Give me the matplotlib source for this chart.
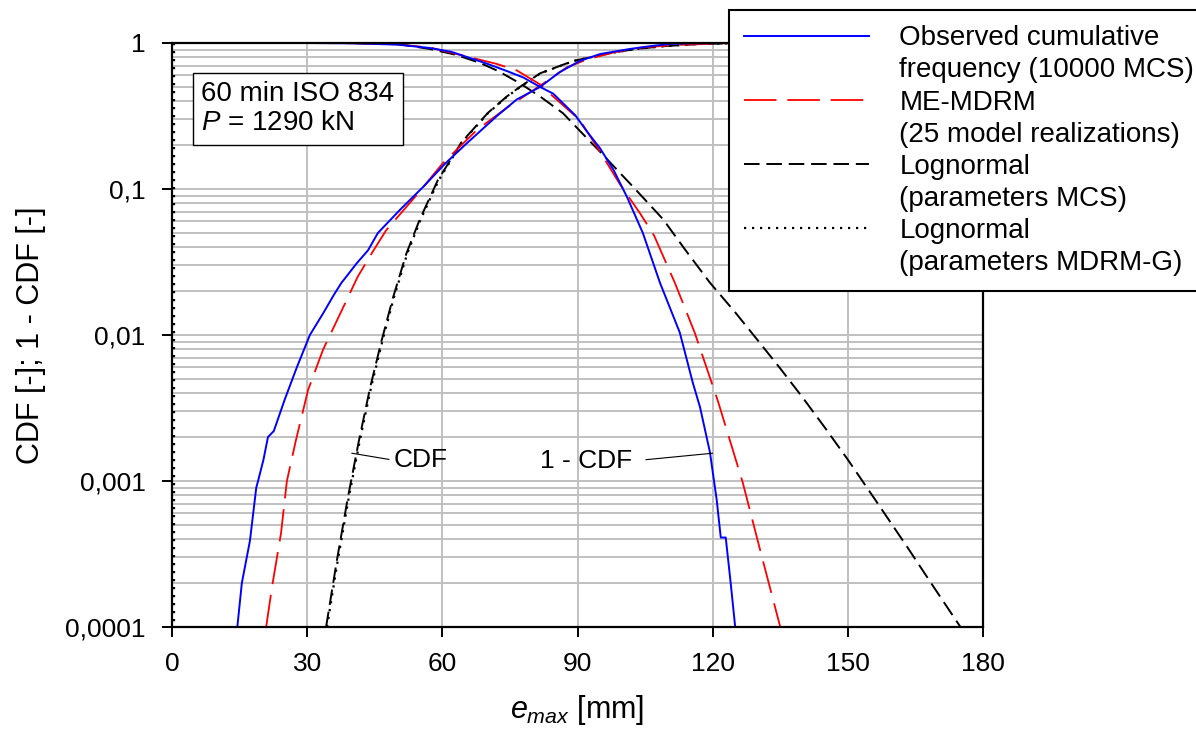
import matplotlib
matplotlib.use("Agg")
import matplotlib.pyplot as plt
from matplotlib.lines import Line2D
from matplotlib.ticker import LogLocator, NullFormatter

plt.rcParams['font.family'] = ['Liberation Sans', 'DejaVu Sans']
plt.rcParams['mathtext.fontset'] = 'custom'
plt.rcParams['mathtext.rm'] = 'Liberation Sans'
plt.rcParams['mathtext.it'] = 'Liberation Sans:italic'

# observed cumulative frequency (10000 MCS)
obs_cdf_x = [11, 14.5, 15.5, 17.3, 18.7, 19.1, 20.3, 21.3, 22.6, 25, 27.7, 30.6, 33.5, 36, 37.7,
             38.2, 41, 43.5, 45.7, 50.6, 56.1, 60.5, 65, 72.1, 76.5, 81.7, 86, 90.5, 95, 101.6,
             106, 110.5, 115, 125]
obs_cdf_y = [1e-4, 1e-4, 2.0e-4, 3.9e-4, 9e-4, 1.0e-3, 1.4e-3, 2.0e-3, 2.2e-3, 3.6e-3, 6e-3, 0.01,
             0.014, 0.019, 0.023, 0.024, 0.031, 0.038, 0.05, 0.072, 0.106, 0.148, 0.2, 0.316, 0.41,
             0.5, 0.63, 0.753, 0.84, 0.91, 0.95, 0.985, 0.995, 1.0]
obs_sf_x = [0, 30, 40, 50, 57.3, 62, 66.1, 70, 74.3, 78, 81.7, 84.6, 89.5, 92, 95, 98, 101, 104.5,
            108.3, 112.7, 115.6, 117.2, 119.4, 120.9, 121.8, 122.9, 124, 125]
obs_sf_y = [1, 1, 0.995, 0.975, 0.924, 0.87, 0.79, 0.72, 0.643, 0.58, 0.5, 0.45, 0.32, 0.25, 0.19,
            0.135, 0.088, 0.05, 0.0228, 0.0104, 0.0047, 0.0032, 1.57e-3, 7.4e-4, 4.1e-4, 4.1e-4,
            2e-4, 1e-4]

# ME-MDRM (25 model realizations)
mdrm_cdf_x = [20.9, 22.2, 24.2, 25.5, 27.5, 30.2, 33.5, 37.7, 41.2, 44.5, 47.5, 53.9, 60.1, 67.7,
              74.3, 81.7, 87.6, 92, 97.9, 104, 112, 125]
mdrm_cdf_y = [1e-4, 1.88e-4, 4.4e-4, 1e-3, 1.9e-3, 4.2e-3, 7.9e-3, 0.0148, 0.025, 0.037, 0.052,
              0.088, 0.15, 0.254, 0.36, 0.51, 0.68, 0.77, 0.86, 0.93, 0.97, 1.0]
mdrm_sf_x = [0, 30, 40, 50, 57.3, 66, 72, 76.5, 81.7, 84.6, 90.5, 95, 99.4, 103.9, 107, 111.6,
             116, 121.2, 126.7, 130.5, 135]
mdrm_sf_y = [1, 1, 0.996, 0.978, 0.93, 0.8, 0.72, 0.65, 0.52, 0.43, 0.297, 0.18, 0.108, 0.068,
             0.048, 0.0228, 0.0104, 0.0035, 9.7e-4, 3.4e-4, 1e-4]

# Lognormal (parameters MCS)
ln_mcs_cdf_x = [34.2, 36.5, 39, 41.5, 44, 46.5, 49, 52, 55, 59, 64.3, 70.1, 74.3, 77.2, 81.7, 89,
                97.9, 103, 109, 117, 128]
ln_mcs_cdf_y = [1e-4, 2.75e-4, 7.6e-4, 1.9e-3, 4.4e-3, 9.1e-3, 0.0178, 0.036, 0.062, 0.115, 0.21,
                0.332, 0.43, 0.5, 0.62, 0.753, 0.86, 0.91, 0.95, 0.985, 1.0]
ln_mcs_sf_x = [0, 40, 50, 57.3, 63, 68.4, 72.5, 77.2, 81.7, 86.8, 90, 95, 102.4, 109, 114, 119.4,
               125, 130, 135, 140, 145, 150, 156, 163, 169, 175]
ln_mcs_sf_y = [1, 1, 0.985, 0.91, 0.83, 0.73, 0.64, 0.53, 0.43, 0.33, 0.26, 0.18, 0.103, 0.062,
               0.038, 0.0228, 0.0143, 9.2e-3, 5.9e-3, 3.72e-3, 2.3e-3, 1.4e-3, 7.5e-4, 3.6e-4,
               1.89e-4, 1e-4]

# Lognormal (parameters MDRM-G)
ln_g_cdf_x = [34.4, 36.7, 39.2, 41.7, 44.2, 46.7, 49.2, 52.2, 55.2, 59.2, 64.4, 70.2, 74.4, 77.3,
              81.8, 89.1, 98, 103.1, 109.1, 117.1, 128]
ln_g_cdf_y = [1e-4, 2.75e-4, 7.6e-4, 1.9e-3, 4.4e-3, 9.1e-3, 0.0178, 0.036, 0.062, 0.115, 0.21,
              0.332, 0.43, 0.5, 0.62, 0.753, 0.86, 0.91, 0.95, 0.985, 1.0]
ln_g_sf_x = [0.4, 0.4]
ln_g_sf_y = [1.0, 1e-4]

x_ticks = [0, 30, 60, 90, 120, 150, 180]
y_ticks = [1e-4, 1e-3, 1e-2, 1e-1, 1]
y_tick_labels = ['0,0001', '0,001', '0,01', '0,1', '1']

legend_labels = ['Observed cumulative', 'frequency (10000 MCS)',
                 'ME-MDRM', '(25 model realizations)',
                 'Lognormal', '(parameters MCS)',
                 'Lognormal', '(parameters MDRM-G)']

fig = plt.figure(figsize=(11.96, 7.4), dpi=100)
ax = fig.add_axes([172 / 1196, 1 - 627 / 740, 811 / 1196, 584 / 740])

dash_black = (0, (8, 3.5))
dash_red = (0, (18, 6))
dot_style = (0, (1.0, 2.6))

ax.plot(ln_mcs_cdf_x, ln_mcs_cdf_y, color='black', lw=1.4, linestyle=dash_black)
ax.plot(ln_mcs_sf_x, ln_mcs_sf_y, color='black', lw=1.4, linestyle=dash_black)
ax.plot(ln_g_cdf_x, ln_g_cdf_y, color='black', lw=1.6, linestyle=dot_style)
ax.plot(ln_g_sf_x, ln_g_sf_y, color='black', lw=1.6, linestyle=dot_style)
ax.plot(mdrm_cdf_x, mdrm_cdf_y, color='#ff0000', lw=1.3, linestyle=dash_red)
ax.plot(mdrm_sf_x, mdrm_sf_y, color='#ff0000', lw=1.3, linestyle=dash_red)
ax.plot(obs_cdf_x, obs_cdf_y, color='#0000ff', lw=1.4)
ax.plot(obs_sf_x, obs_sf_y, color='#0000ff', lw=1.4)

ax.set_yscale('log')
ax.set_xlim(0, 180)
ax.set_ylim(1e-4, 1)
ax.set_xticks(x_ticks)
ax.set_yticks(y_ticks)
ax.set_yticklabels(y_tick_labels)
ax.yaxis.set_minor_locator(LogLocator(base=10, subs=range(2, 10)))
ax.yaxis.set_minor_formatter(NullFormatter())
ax.tick_params(axis='both', which='major', direction='out', length=7, width=1.4,
               labelsize=19)
ax.tick_params(axis='x', pad=11)
ax.tick_params(axis='y', pad=12)
ax.tick_params(axis='y', which='minor', length=0)

ax.set_axisbelow(True)
ax.grid(True, which='major', axis='x', color='#c0c0c0', lw=1.4)
ax.grid(True, which='both', axis='y', color='#c0c0c0', lw=1.4)
for sp in ax.spines.values():
    sp.set_linewidth(1.6)
    sp.set_color('black')

ax.set_xlabel(r'$e_{max}$ [mm]', fontsize=22, labelpad=12)
ax.set_ylabel('CDF [-]; 1 - CDF [-]', fontsize=22, labelpad=14)

ax.text(0.036, 0.887, '60 min ISO 834\n$P$ = 1290 kN', transform=ax.transAxes,
        fontsize=20, va='center', ha='left', linespacing=1.15,
        bbox=dict(boxstyle='square,pad=0.3', fc='white', ec='black', lw=1))

ax.annotate('CDF', xy=(39.9, 1.55e-3), xytext=(49.1, 1.39e-3), fontsize=19,
            ha='left', va='center',
            arrowprops=dict(arrowstyle='-', color='black', lw=0.8, shrinkA=1, shrinkB=0,
                            relpos=(0, 0.5)))
ax.annotate('1 - CDF', xy=(120, 1.55e-3), xytext=(102.1, 1.37e-3), fontsize=19,
            ha='right', va='center',
            arrowprops=dict(arrowstyle='-', color='black', lw=0.8, shrinkA=8, shrinkB=0,
                            relpos=(1, 0.5)))

blank = Line2D([], [], color='none')
handles = [Line2D([], [], color='#0000ff', lw=1.4), blank,
           Line2D([], [], color='#ff0000', lw=1.3, linestyle=dash_red), blank,
           Line2D([], [], color='black', lw=1.4, linestyle=dash_black), blank,
           Line2D([], [], color='black', lw=1.6, linestyle=dot_style), blank]
leg = fig.legend(handles, legend_labels, loc='upper left',
                 bbox_to_anchor=(729 / 1196, 1 - 10 / 740), fontsize=20,
                 handlelength=4.5, handletextpad=1.08, labelspacing=0.22,
                 borderpad=0.55, borderaxespad=0, fancybox=False, framealpha=1,
                 edgecolor='black')
leg.get_frame().set_linewidth(1.5)

fig.savefig('out.png', dpi=100)
